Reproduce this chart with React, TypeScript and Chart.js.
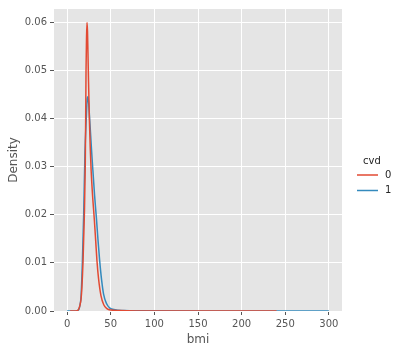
import React, { useEffect, useRef } from "react";
import { Chart, registerables } from "chart.js";

Chart.register(...registerables);

const seriesNames = ["0", "1"];
const seriesColors = ["#E24A33", "#348ABD"];

const bmi0 = [3.5, 10, 13, 14.5, 16, 17, 18.2, 19, 19.8, 20.8, 21.3, 21.7, 22.3, 22.8, 23.4, 24.3, 25.5, 26.6, 27.6, 29, 31.2, 32.8, 34.2, 36, 38.8, 42, 45.6, 50, 60, 80, 120, 240];
const density0 = [0, 0.00002, 0.0003, 0.001, 0.0025, 0.005, 0.01, 0.015, 0.02, 0.03, 0.04, 0.05, 0.057, 0.0599, 0.058, 0.05, 0.04, 0.0335, 0.029, 0.0245, 0.019, 0.0145, 0.0105, 0.0068, 0.0032, 0.0013, 0.0005, 0.0002, 0.00008, 0.00002, 0.000005, 0];

const bmi1 = [0, 10, 13, 15, 16, 17.5, 19, 20.5, 22, 23, 23.8, 24.8, 25.8, 27, 28.5, 30, 31.5, 33.5, 35.3, 37.3, 39.5, 41.8, 45, 49, 55, 65, 80, 150, 300];
const density1 = [0, 0.00002, 0.0002, 0.0015, 0.003, 0.01, 0.02, 0.033, 0.04, 0.044, 0.0445, 0.043, 0.04, 0.0365, 0.032, 0.028, 0.024, 0.0195, 0.015, 0.0105, 0.0065, 0.0035, 0.0016, 0.0006, 0.00025, 0.0001, 0.00003, 0.000005, 0];

const xTicks = [0, 50, 100, 150, 200, 250, 300];
const yTicks = [0, 0.01, 0.02, 0.03, 0.04, 0.05, 0.06];

const FONT = "'DejaVu Sans', sans-serif";

const bgPlugin = {
  id: "plotBg",
  beforeDraw(chart: any) {
    const { ctx, chartArea } = chart;
    ctx.save();
    ctx.fillStyle = "#E5E5E5";
    ctx.fillRect(chartArea.left, chartArea.top, chartArea.right - chartArea.left, chartArea.bottom - chartArea.top);
    ctx.restore();
  },
};

const legendPlugin = {
  id: "customLegend",
  afterDraw(chart: any) {
    const ctx = chart.ctx;
    ctx.save();
    ctx.font = `10px ${FONT}`;
    ctx.fillStyle = "#262626";
    ctx.textAlign = "center";
    ctx.textBaseline = "middle";
    ctx.fillText("cvd", 372, 161);
    seriesNames.forEach((name, i) => {
      const y = 175 + i * 15.5;
      ctx.strokeStyle = seriesColors[i];
      ctx.lineWidth = 1.5;
      ctx.beginPath();
      ctx.moveTo(357, y);
      ctx.lineTo(378, y);
      ctx.stroke();
      ctx.textAlign = "left";
      ctx.fillText(name, 385, y);
    });
    ctx.restore();
  },
};

export default function App() {
  const ref = useRef<HTMLCanvasElement>(null);
  useEffect(() => {
    if (!ref.current) return;
    const chart = new Chart(ref.current, {
      type: "line",
      data: {
        datasets: [
          {
            label: seriesNames[0],
            data: bmi0.map((x, i) => ({ x, y: density0[i] })),
            borderColor: seriesColors[0],
            borderWidth: 1.5,
            pointRadius: 0,
            cubicInterpolationMode: "monotone",
            fill: false,
            order: 0,
          },
          {
            label: seriesNames[1],
            data: bmi1.map((x, i) => ({ x, y: density1[i] })),
            borderColor: seriesColors[1],
            borderWidth: 1.5,
            pointRadius: 0,
            cubicInterpolationMode: "monotone",
            fill: false,
            order: 1,
          },
        ] as any,
      },
      options: {
        animation: false,
        responsive: false,
        layout: { padding: { top: 7, right: 58, left: 0, bottom: 0 } },
        plugins: { legend: { display: false }, tooltip: { enabled: false } },
        scales: {
          x: {
            type: "linear",
            min: -15,
            max: 315,
            afterBuildTicks: (s: any) => {
              s.ticks = xTicks.map((v) => ({ value: v }));
            },
            afterFit: (s: any) => {
              s.height = 41;
            },
            grid: { color: "#FFFFFF", lineWidth: 1, tickColor: "#555555", tickLength: 4 },
            border: { display: false },
            ticks: { color: "#555555", font: { family: FONT, size: 10 }, padding: 3, maxRotation: 0 },
            title: { display: true, text: "bmi", color: "#555555", font: { family: FONT, size: 12 }, padding: { top: 0, bottom: 5 } },
          },
          y: {
            type: "linear",
            min: 0,
            max: 0.0627,
            afterBuildTicks: (s: any) => {
              s.ticks = yTicks.map((v) => ({ value: v }));
            },
            afterFit: (s: any) => {
              s.width = 54;
            },
            grid: { color: "#FFFFFF", lineWidth: 1, tickColor: "#555555", tickLength: 4 },
            border: { display: false },
            ticks: {
              color: "#555555",
              font: { family: FONT, size: 10 },
              padding: 3,
              callback: (v: any) => Number(v).toFixed(2),
            },
            title: { display: true, text: "Density", color: "#555555", font: { family: FONT, size: 12 }, padding: { top: 7, bottom: 0 } },
          },
        },
      },
      plugins: [bgPlugin, legendPlugin],
    });
    return () => chart.destroy();
  }, []);
  return (
    <div style={{ position: "absolute", left: 0, top: 0, width: 400, height: 352 }}>
      <canvas ref={ref} width={400} height={352} style={{ display: "block" }} />
    </div>
  );
}
